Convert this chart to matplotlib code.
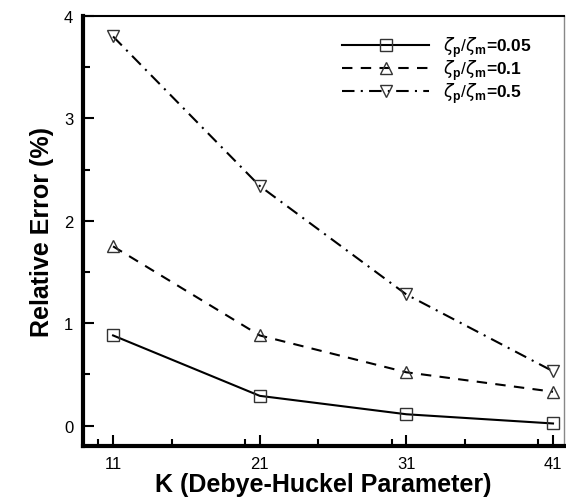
import matplotlib.pyplot as plt
from matplotlib.ticker import MultipleLocator

plt.rcParams['font.family'] = ['Liberation Sans', 'DejaVu Sans']
plt.rcParams['mathtext.fontset'] = 'custom'
plt.rcParams['mathtext.rm'] = 'Liberation Sans'
plt.rcParams['mathtext.bf'] = 'Liberation Sans:bold'

# datos
K = [11, 21, 31, 41]
err_005 = [0.88, 0.29, 0.11, 0.02]
err_01 = [1.75, 0.88, 0.52, 0.33]
err_05 = [3.80, 2.34, 1.28, 0.53]

etiquetas = [r'$\zeta_{\mathbf{p}}/\zeta_{\mathbf{m}}$=0.05',
             r'$\zeta_{\mathbf{p}}/\zeta_{\mathbf{m}}$=0.1',
             r'$\zeta_{\mathbf{p}}/\zeta_{\mathbf{m}}$=0.5']

fig = plt.figure(figsize=(5.66, 5.02), dpi=100)
ax = fig.add_axes([83/566, 1 - 447/502, (564 - 83)/566, (447 - 17)/502])

estilo = dict(color='black', lw=1.5, markersize=9, markerfacecolor='none',
              markeredgecolor='#333333', markeredgewidth=1.0)
ax.plot(K, err_005, '-', marker='s', label=etiquetas[0], **estilo)
ax.plot(K, err_01, linestyle=(0, (5, 4)), marker='^', label=etiquetas[1], **estilo)
ax.plot(K, err_05, linestyle=(0, (6, 3, 1, 3)), marker='v', label=etiquetas[2], **estilo)

ax.set_xlim(8.95, 41.75)
ax.set_ylim(-0.2, 4)
ax.set_xticks(K)
ax.xaxis.set_minor_locator(MultipleLocator(5))
ax.yaxis.set_major_locator(MultipleLocator(1))
ax.yaxis.set_minor_locator(MultipleLocator(0.5))
ax.tick_params(which='both', direction='in', width=1.5, labelsize=12)
ax.tick_params(which='major', length=8, pad=7)
ax.tick_params(which='minor', length=5)
ax.tick_params(axis='x', which='both', top=False)

ax.spines['left'].set_linewidth(3)
ax.spines['bottom'].set_linewidth(3)
ax.spines['top'].set_linewidth(1.5)
ax.spines['right'].set_linewidth(1)
ax.spines['right'].set_color('#888888')

ax.set_xlabel('K (Debye-Huckel Parameter)', fontsize=18, fontweight='bold', labelpad=1)
ax.set_ylabel('Relative Error (%)', fontsize=18, fontweight='bold', labelpad=7)

leg = ax.legend(loc='upper right', frameon=False, handlelength=5.0,
                prop={'weight': 'bold', 'size': 12.5}, labelspacing=-0.1,
                handleheight=0.5, bbox_to_anchor=(0.965, 0.995), handletextpad=0.8)

fig.savefig('out.png', dpi=100)
